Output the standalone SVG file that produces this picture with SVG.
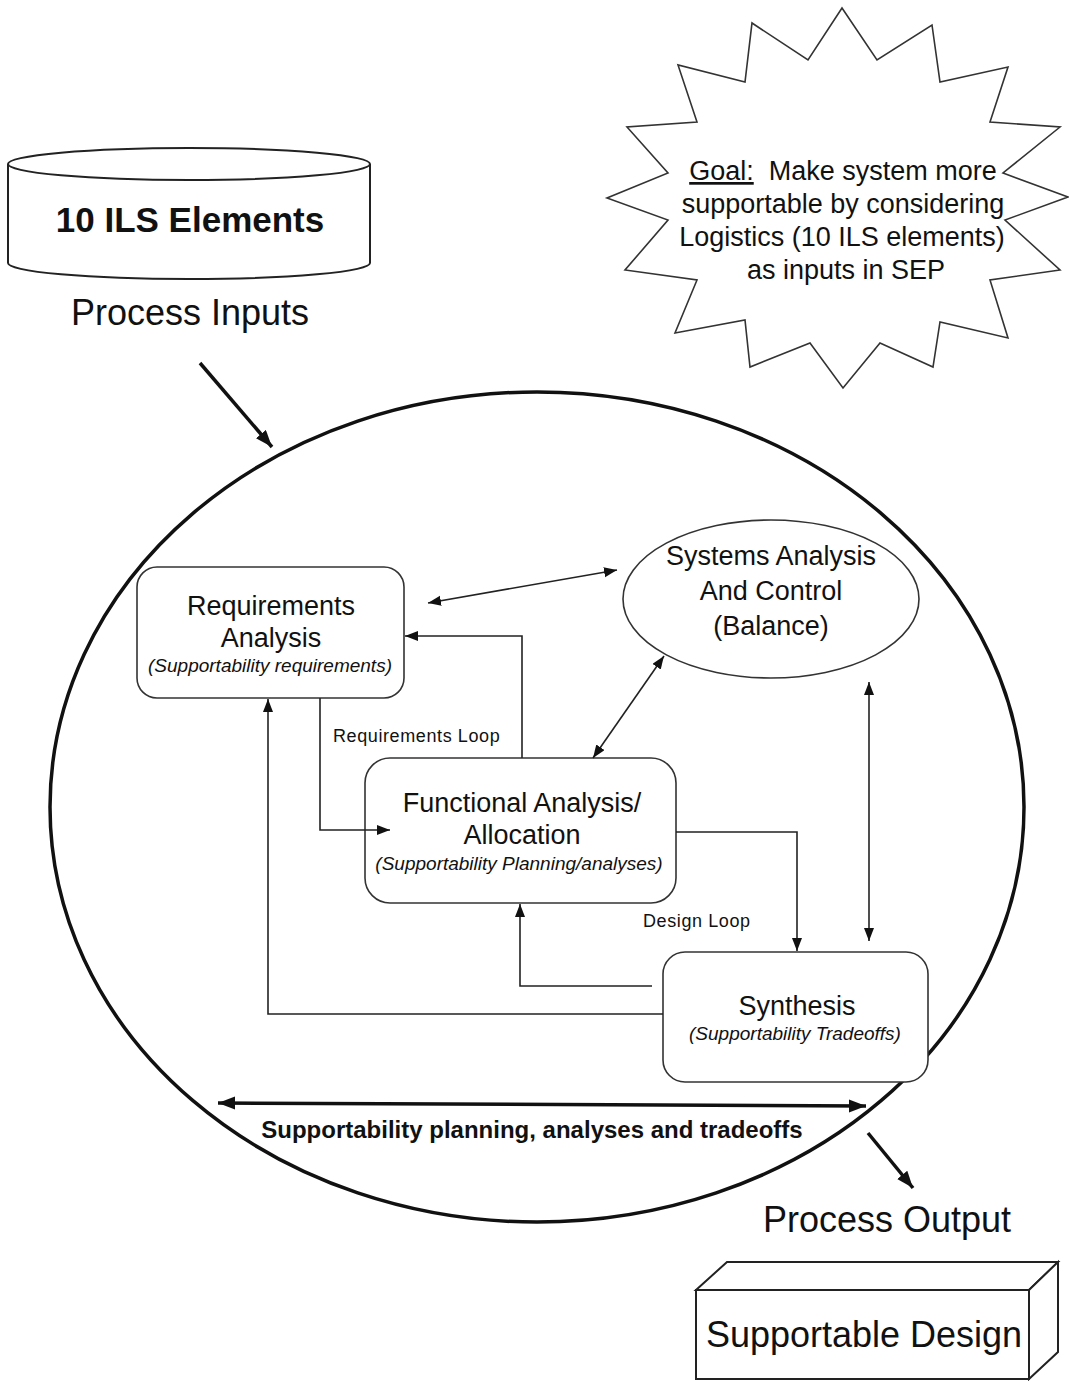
<svg xmlns="http://www.w3.org/2000/svg" width="1069" height="1381" viewBox="0 0 1069 1381">
  <defs>
    <style>
      text { font-family: "Liberation Sans", Arial, sans-serif; fill: #111; }
      .title { font-size: 27px; text-anchor: middle; }
      .sub { font-size: 19px; font-style: italic; text-anchor: middle; }
      .big { font-size: 36px; text-anchor: middle; }
      .loop { font-size: 18px; letter-spacing: 0.6px; }
      .goal { font-size: 27px; text-anchor: middle; }
      .box { fill: #fff; stroke: #333; stroke-width: 1.6; }
      .shape { fill: #fff; stroke: #222; stroke-width: 2; }
      .conn { fill: none; stroke: #222; stroke-width: 1.6; }
      .thick { fill: none; stroke: #111; stroke-width: 3.5; }
    </style>
    <marker id="arr" markerUnits="userSpaceOnUse" markerWidth="14" markerHeight="11" refX="13" refY="5" orient="auto-start-reverse">
      <path d="M0,0 L13,5 L0,10 z" fill="#111"/>
    </marker>
    <marker id="arrBig" markerUnits="userSpaceOnUse" markerWidth="18" markerHeight="14" refX="17" refY="6.5" orient="auto-start-reverse">
      <path d="M0,0 L17,6.5 L0,13 z" fill="#111"/>
    </marker>
  </defs>
  <rect width="1069" height="1381" fill="#fff"/>

  <!-- Input store: cylinder -->
  <g id="ils-elements">
    <path class="shape" d="M8,164 V263 A181,16 0 0 0 370,263 V164"/>
    <ellipse class="shape" cx="189" cy="164" rx="181" ry="16"/>
    <text x="190" y="232" font-size="35" font-weight="bold" text-anchor="middle">10 ILS Elements</text>
  </g>
  <g id="process-inputs-label">
    <text class="big" x="190" y="325">Process Inputs</text>
  </g>

  <!-- Goal starburst -->
  <g id="goal">
    <polygon class="box" points="842,8 877,60 932,25 940,82 1008,67 990,122 1060,127 1003,173 1068,197 1005,220 1060,270 990,280 1008,338 940,322 933,367 880,343 843,388 810,343 750,367 745,320 675,333 697,280 625,270 668,220 607,198 668,173 627,127 697,122 678,65 745,82 752,23 808,60"/>
    <text class="goal" x="843" y="180" xml:space="preserve"><tspan text-decoration="underline">Goal:</tspan>  Make system more</text>
    <text class="goal" x="843" y="213">supportable by considering</text>
    <text class="goal" x="842" y="246">Logistics (10 ILS elements)</text>
    <text class="goal" x="846" y="279">as inputs in SEP</text>
  </g>

  <!-- Process boundary -->
  <g id="process">
    <ellipse cx="537" cy="807" rx="487" ry="415" fill="none" stroke="#111" stroke-width="3.5"/>
  </g>

  <g id="requirements-analysis">
    <rect class="box" x="137" y="567" width="267" height="131" rx="20"/>
    <text class="title" x="271" y="615">Requirements</text>
    <text class="title" x="271" y="647">Analysis</text>
    <text class="sub" x="270" y="672">(Supportability requirements)</text>
  </g>

  <g id="systems-analysis">
    <ellipse class="box" cx="771" cy="599" rx="148" ry="79"/>
    <text class="title" x="771" y="565">Systems Analysis</text>
    <text class="title" x="771" y="600">And Control</text>
    <text class="title" x="771" y="635">(Balance)</text>
  </g>

  <g id="functional-analysis">
    <rect class="box" x="365" y="758" width="311" height="145" rx="25"/>
    <text class="title" x="522" y="812">Functional Analysis/</text>
    <text class="title" x="522" y="844">Allocation</text>
    <text class="sub" x="519" y="870">(Supportability Planning/analyses)</text>
  </g>

  <g id="synthesis">
    <rect class="box" x="663" y="952" width="265" height="130" rx="22"/>
    <text class="title" x="797" y="1015">Synthesis</text>
    <text class="sub" x="795" y="1040">(Supportability Tradeoffs)</text>
  </g>

  <g id="process-output-label">
    <text class="big" x="887" y="1232">Process Output</text>
  </g>

  <!-- Output: 3D box -->
  <g id="supportable-design">
    <polygon class="shape" points="696,1290 727,1262 1058,1262 1029,1290"/>
    <polygon class="shape" points="1029,1290 1058,1262 1058,1352 1029,1379"/>
    <rect class="shape" x="696" y="1290" width="333" height="89"/>
    <text class="big" x="864" y="1347">Supportable Design</text>
  </g>

  <g id="connectors">
    <line class="thick" x1="200" y1="363" x2="272" y2="447" marker-end="url(#arrBig)"/>
    <line class="thick" x1="868" y1="1133" x2="913" y2="1188" marker-end="url(#arrBig)"/>
    <line class="thick" x1="218" y1="1103" x2="866" y2="1106" marker-start="url(#arrBig)" marker-end="url(#arrBig)"/>
    <line class="conn" x1="428" y1="603" x2="617" y2="570" marker-start="url(#arr)" marker-end="url(#arr)"/>
    <line class="conn" x1="593" y1="758" x2="664" y2="656" marker-start="url(#arr)" marker-end="url(#arr)"/>
    <line class="conn" x1="869" y1="682" x2="869" y2="941" marker-start="url(#arr)" marker-end="url(#arr)"/>
    <polyline class="conn" points="522,758 522,636 405,636" marker-end="url(#arr)"/>
    <polyline class="conn" points="320,698 320,830 390,830" marker-end="url(#arr)"/>
    <polyline class="conn" points="676,832 797,832 797,951" marker-end="url(#arr)"/>
    <polyline class="conn" points="652,986 520,986 520,904" marker-end="url(#arr)"/>
    <polyline class="conn" points="663,1014 268,1014 268,699" marker-end="url(#arr)"/>
    <text class="loop" x="333" y="742">Requirements Loop</text>
    <text class="loop" x="643" y="927">Design Loop</text>
    <text x="532" y="1138" font-size="24" font-weight="bold" text-anchor="middle">Supportability planning, analyses and tradeoffs</text>
  </g>
</svg>
